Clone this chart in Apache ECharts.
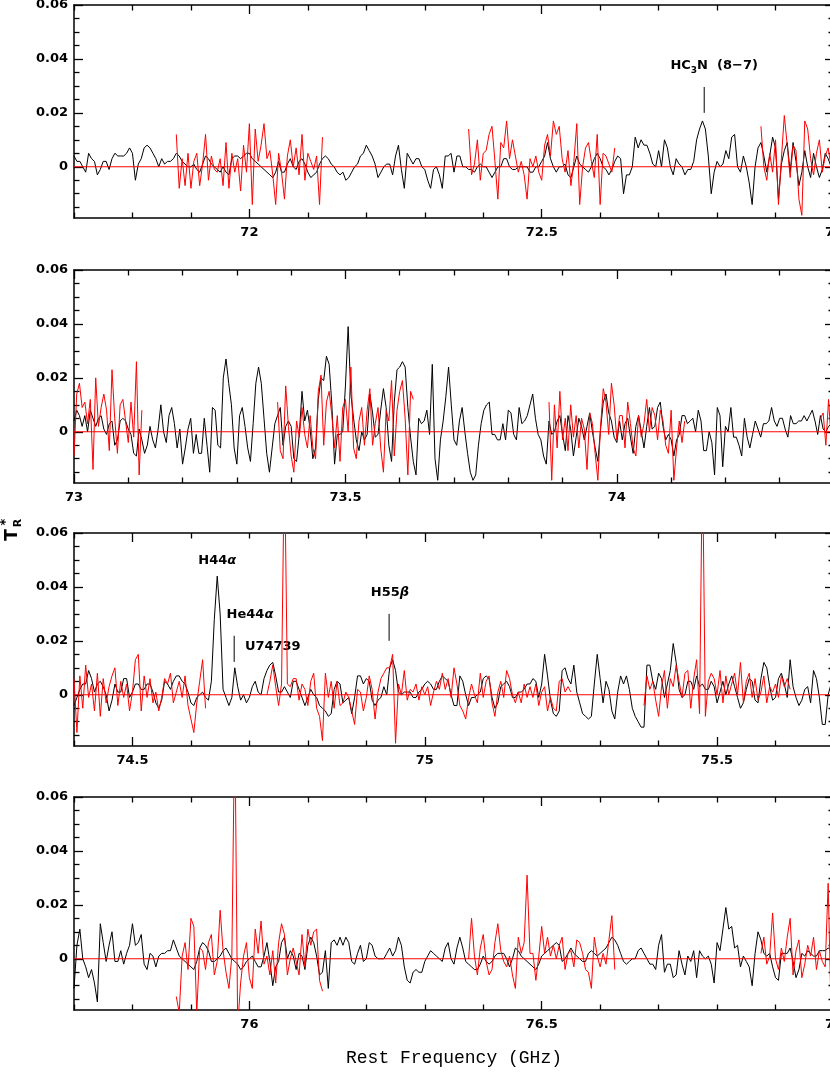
<!DOCTYPE html>
<html>
<head>
<meta charset="utf-8">
<script src="https://cdn.jsdelivr.net/npm/echarts@6/dist/echarts.min.js"></script>
<style>
html,body{margin:0;padding:0;background:#fff;}
#main{width:830px;height:1078px;}
</style>
</head>
<body>
<div id="main"></div>
<script>
// frequency range of each panel (GHz)
var panelMin = [71.7, 73.0, 74.4, 75.7];
var panelMax = [73.0, 74.4, 75.7, 77.0];
var xTicks = [[72, 72.5, 73], [73, 73.5, 74], [74.5, 75, 75.5], [76, 76.5, 77]];
var yTicks = [0, 0.02, 0.04, 0.06];
var yMin = -0.019, yMax = 0.06;

// black spectra in mK, one value every 0.005 GHz from panelMin
var blackStep = 0.005;
var black1 = [4, 2, 2, 0, -2, 5, 3, 2, -3, -1, 2, 2, -1, 3, 5, 4, 4, 4, 5, 7,
  5, -5, 1, 3, 7, 8, 7, 5, 3, 0, 3, 1, 2, 2, 3, 5, 4, 2, 1, 0,
  0, 1, -1, -2, 1, 4, 3, 1, 0, -1, -2, 0, -2, -3, 3, 4, 4, 3, 4, 5,
  5, 3, 2, 1, 0, -1, -2, -3, -4, -2, 2, -2, -2, 1, 3, 0, -1, 2, 3, 1,
  -2, -4, -3, -2, 1, 3, 4, 3, 1, 0, -2, -3, -2, -5, -4, -2, 0, 1, 4, 5,
  8, 6, 4, 1, -4, -2, 0, 1, 1, -3, 4, 8, -1, -8, 5, 3, 1, 3, 3, 0,
  -1, -5, -8, -1, 0, -3, -8, 4, 4, 5, -2, 4, 4, 0, 0, -1, -1, -2, 0, 1,
  0, 0, -2, -4, -2, 0, 0, 3, 3, 0, -1, -1, 0, 0, 0, 0, -2, -2, 0, 0,
  2, 4, 9, 3, 0, -2, 0, 0, 1, -3, -4, 0, 4, 1, 0, -1, -2, 0, 3, 5,
  3, 0, -1, -3, -1, 2, 4, 3, -10, -3, -3, 0, 11, 7, 10, 8, 8, 5, 1, 0,
  6, 0, 10, 7, 0, -3, 3, 1, 0, -3, -1, -1, 2, 10, 14, 17, 14, 4, -10, -2,
  2, 0, 1, 6, 3, 11, 12, 0, -2, 4, 0, -6, -14, 0, 7, 9, 4, -2, 4, 11,
  7, -12, 1, 6, 9, -2, 9, 2, -7, -2, 6, 0, -4, 5, 0, -4, -1, 5, 3, 0, 1];
var black2 = [4, 8, 6, 2, 6, 0, 8, 5, 2, 5, 6, 1, -1, 3, 4, -5, -3, 4, 5, 4,
  1, -1, -8, -9, 1, -3, -8, -5, 2, -3, -6, 1, 10, 0, -4, 6, 9, 3, -6, 1,
  -12, -6, 1, 5, -8, -1, -8, -8, 5, -5, -15, 9, 8, -5, -6, 20, 27, 18, 10, -6,
  -12, 6, 9, 2, -6, -11, 3, 18, 24, 18, 5, -8, -15, -6, 3, 6, 9, -5, 2, 4,
  2, -10, -11, -1, 15, 4, 8, 1, -10, -6, 12, 20, 19, 28, 25, 10, -12, -1, -1, 0,
  17, 39, 14, 5, -3, -7, 0, -3, -1, 14, 7, -2, -1, 8, 16, 9, -5, -11, 11, 23,
  24, 26, 24, 9, -2, -11, -16, 5, 3, 4, 8, -1, 25, -10, -18, -3, 4, 13, 24, 10,
  -3, -5, 4, 9, 0, -8, -15, -18, -16, -5, 3, 8, 10, 11, -1, -1, -3, -3, 3, -3,
  8, 7, -1, -3, 9, 3, 4, 6, 10, 14, 5, -1, -3, -9, -12, 4, -1, 0, 4, 6,
  -1, -7, 6, 1, -9, -2, 5, 2, -3, 2, 7, 0, -6, -11, 1, 11, 14, 7, 4, -2,
  -4, 4, -3, 3, 5, -2, -8, 2, 6, 0, -6, 2, 9, 1, 2, 9, 11, 2, -3, -1,
  -3, -9, -3, -1, 6, 6, 3, 4, 5, 0, 8, 4, -7, -7, 0, -4, -16, 9, 6, -13,
  2, 0, 9, -2, -2, -5, -9, 5, -2, -6, -1, 4, 1, -2, 3, 3, 4, 9, 4, 2,
  5, 5, 1, -2, 6, 3, 3, 4, 4, 6, 4, 6, 8, 4, -1, 6, 1, 0, 2, 3, 2];
var black3 = [-4, -1, 2, 4, 4, 9, 6, 1, 4, 5, 3, 0, -6, -2, 4, 1, 1, 6, 6, -1,
  1, 4, 4, 2, 2, 4, 4, 1, -3, -5, -2, 5, 4, 2, 5, 7, 7, 5, 4, 1,
  -3, -4, -1, 0, 1, -1, -2, 5, 28, 44, 30, 2, -1, -4, -1, 10, 3, -2, 0, -3,
  -1, 3, 5, 1, 0, 6, 9, 11, 12, 7, 1, 1, 3, 1, -1, 5, 5, 2, -1, -4,
  -1, 2, 0, -1, -4, -5, -6, -8, -7, 2, 5, 4, -3, -2, -1, -7, -1, 7, 7, 4,
  6, 5, -2, -4, -2, -1, 3, 0, 10, 13, 9, 1, 0, 1, 1, 1, -1, -1, 1, 2,
  4, 5, 4, 2, 2, 5, 7, 6, 5, 0, -4, -4, 7, 5, 0, -4, -1, -1, 0, 1,
  6, 7, 6, -1, -5, -3, 3, 4, 5, 3, -1, -1, 1, 1, 2, 4, 4, 6, 5, -1,
  4, 15, 7, -2, -7, -8, -6, 9, 10, 6, 4, 11, 1, -3, -7, -8, -9, -8, 4, 15,
  6, -3, 5, 2, -6, -9, 1, 7, 4, 7, 2, -5, -8, -10, -12, -12, 11, 11, 5, 2,
  8, 6, -1, 4, 9, 19, 12, 2, -1, 0, 5, 5, 2, 7, 3, 4, 2, 2, 5, 3,
  -3, 1, 5, 0, 4, 7, 3, -1, -5, -3, 2, 6, 5, -2, -3, 6, 12, 10, 3, -2,
  -1, 6, 8, 4, -1, 13, 3, -1, -4, -2, 2, 3, -3, 9, 6, -1, -11, -11, 0, 4, 3];
var black4 = [-11, 5, 11, 0, -3, -7, -4, -9, -16, 13, 6, -1, 5, 10, -1, -1, 3, -2, 2, 5,
  13, 5, 6, 9, -2, -4, 2, 1, -3, 1, 2, 2, 3, 3, 7, 4, 1, 0, -1, -2,
  -3, -4, -1, 4, 6, 5, 3, -1, -1, 0, 1, 3, 4, 2, 0, -1, -2, -4, -3, -1,
  0, 1, -1, -3, -3, 1, 6, -1, -10, -3, -1, 6, 8, 0, 3, 1, -4, 2, 1, -4,
  5, 8, 6, 1, -6, -5, 3, -11, 6, 7, 5, 8, 5, 8, 6, -1, -2, 2, 5, -1,
  0, 6, 5, 1, 0, 0, 0, 2, 4, 1, 3, 8, 5, -3, -8, -9, -5, -4, -5, -5,
  -1, 1, 3, 2, 1, 0, -1, 4, 6, 0, -2, 4, 8, 4, -1, -2, -3, -4, -4, -2,
  1, -1, -2, -1, 1, 2, 2, 2, 0, -3, 0, 4, 3, 1, 0, -1, -2, -3, -4, -2,
  1, 2, 3, 4, 5, 6, 5, -1, 0, 2, 4, 2, 1, 0, -1, -1, 2, 3, 2, 1,
  2, 3, 4, 6, 8, 7, 5, 2, -1, -2, -1, 0, 0, 3, 4, 2, 0, -2, -2, -4,
  5, 9, -5, -2, -2, -7, -6, 3, -2, -6, 1, -1, 3, -7, 3, 1, 0, 1, -2, -9,
  6, 3, 11, 19, 11, 12, 4, 5, -3, 1, -1, -3, -10, 2, 10, 7, 2, 1, 2, -3,
  -7, -8, 2, 2, 2, 4, -1, -7, -4, 2, 1, 3, 2, 1, 1, 3, 3, 3, 4, 3, 3];

// red spectra in mK, one value every 0.005 GHz from each segment start
var redStep = 0.005;
var redStart1 = [71.875, 72.375, 72.875];
var red1a = [12, -8, 3, -7, 5, -8, 2, 5, -7, 1, 12, -5, 4, -1, -2, 3, -7, 9, -8, 5,
  -2, 3, -9, 8, -2, 16, -14, 14, 2, 8, 16, 3, 6, -3, -14, 5, -2, -12, 4, 10,
  0, 7, -3, 12, -5, 5, 2, -1, 4, -14, 11];
var red1b = [14, -3, 1, 10, -5, 5, 6, 12, 15, 2, -12, 9, 7, 17, 3, 10, 4, -2, 2, -3,
  -12, 3, 0, 4, -2, -5, 8, 12, 4, 17, 12, 15, 3, -2, 6, -7, 2, 16, -14, 0,
  7, 9, 2, -4, 12, -14, 5, 4, 1, -2, 7];
var red1c = [15, 0, -5, 5, -2, 10, -14, 3, 19, 8, -4, 8, 6, -12, -18, 17, 14, 3, -3, 5,
  10, -2, 4, 7, 0, 3];

var redStart2 = [73.0, 73.375, 73.875, 74.375];
var red2a = [-9, 14, 18, 9, 11, 3, 12, -14, 20, 2, 9, 14, 8, -7, 23, 5, -8, 10, 12, 4,
  -4, 11, -2, 26, -16, 8];
var red2b = [11, -7, -10, 17, 2, -9, -15, 4, -2, 9, -1, -6, 6, -6, -10, 15, 21, -5, 11, 15,
  6, -6, 6, -11, 9, 12, 0, 24, -6, -10, 4, 9, -5, 8, 16, -5, 3, 9, -6, -15,
  8, 4, 19, -9, 8, 15, 19, 5, -16, 15, 12];
var red2c = [11, -18, 10, -6, 15, -3, 5, -7, 10, -2, 6, -6, 5, 1, -14, 7, 3, -8, -18, 2,
  16, 11, -1, 18, 10, -3, 6, 6, -6, 11, 3, -6, -9, 6, -2, 3, 12, 0, 9, 6,
  -3, 8, 4, -5, -8, 8, -18, -6, 4, -4, 4];
var red2d = [5, 7, -5, 12, -4, 3];

var redStart3 = [74.4, 74.73, 75.375];
var red3a = [6, -14, 7, -5, 11, -1, 4, -6, 8, -8, 6, -3, 3, 7, 10, -4, 5, -1, 4, -6,
  1, 13, 15, -6, 7, -1, 6, -3, 1, -6, -1, 6, 4, 8, -3, 1, 5, -1, 7, -4,
  -9, -14, -3, 5, 13, -5];
var red3b = [0, 5, 11, 3, -4, 4, 90, 4, 3, 6, 6, -2, 4, 2, -4, 5, 8, -5, -8, -17,
  8, -1, 5, -5, 5, -4, -3, 1, -1, -6, -11, 2, 1, -6, -1, 7, 2, -9, 1, 6,
  8, 10, 10, 15, -18, 4, 0, 9, -2, 2, 1, 4, -2, 3, 0, 3, -4, 1, 5, 2,
  8, 2, 6, -1, 10, 4, -4, -6, -9, -1, 4, 0, -3, 8, -1, 5, 7, -3, -8, 1,
  5, -1, 9, 6, 0, -3, 1, -3, 4, -1, 3, -1, 4, -4, 1, 3, -6, -1, -5, -6,
  5, 6, 1, 3, 1];
var red3c = [-4, 7, 2, 5, -2, -8, 3, 9, -5, 6, 3, 11, 5, -1, 8, 9, -5, 6, 13, -7,
  90, -8, 5, 8, 6, 0, 9, -3, 7, 0, 4, 8, 0, 12, -3, 5, 8, -1, 6, -2,
  1, 7, -3, 3, 1, 4, -1, 7, 3, 6, 2];

var redStart4 = [75.875, 76.375, 76.875];
var red4a = [-14, -20, 1, 6, -4, 15, 12, -20, 4, 3, -4, 6, 9, -6, -1, 18, 3, -5, -11, 1,
  90, -25, -9, 1, 6, -7, -11, 11, 2, 14, -2, 1, -6, 3, -9, 6, 13, 9, -6, 0,
  4, -1, -6, 9, -3, 11, 5, 10, 11, -8, -12];
var red4b = [0, 15, 1, -6, 4, 9, -1, -6, -4, 6, 13, 3, -1, -3, 1, -6, -11, 8, 2, 6,
  31, 2, 2, -8, 1, 12, 2, 8, 1, 5, 0, 5, 8, -4, 2, 3, -3, 7, 6, 2,
  -4, -5, -11, 8, 1, -3, 2, -2, 7, 16, -4];
var red4c = [2, 8, -2, 1, 17, 0, -4, 4, -1, 8, 15, -6, 3, 7, -7, -2, 5, 1, 8, -4,
  3, -1, -3, 28, -20, 5];

// line identifications
var annoText = ['{b|HC}{s|3}{b|N  (8\u22127)}', '{b|H44}{g|\u03b1}', '{b|He44}{g|\u03b1}', '{b|U74739}', '{b|H55}{g|\u03b2}'];
var annoPanel = [0, 2, 2, 2, 2];
var annoFreq = [72.795, 74.645, 74.701, 74.74, 74.9405];
var annoY = [0.0374, 0.0496, 0.0296, 0.0178, 0.0378];
var markFreq = [72.778, null, 74.674, null, 74.939];
var markLow = [0.020, null, 0.0122, null, 0.020];
var markHigh = [0.0296, null, 0.0219, null, 0.030];

var blacks = [black1, black2, black3, black4];
var reds = [[red1a, red1b, red1c], [red2a, red2b, red2c, red2d], [red3a, red3b, red3c], [red4a, red4b, red4c]];
var redStarts = [redStart1, redStart2, redStart3, redStart4];

var gridTop = [5, 270, 533, 797];
var font = 'DejaVu Sans';

function toXY(start, step, vals) {
  return vals.map(function (v, i) {
    return [+(start + step * i).toFixed(4), v / 1000];
  });
}

function minorX(p) {
  var out = [];
  for (var k = Math.round(panelMin[p] * 10); k <= Math.round(panelMax[p] * 10); k++) {
    if (k % 5 !== 0) out.push(k / 10);
  }
  return out;
}
var yMinor = [];
for (var k = -3; k <= 11; k++) {
  if (k % 4 !== 0) yMinor.push(+(k * 0.005).toFixed(3));
}

function fmtX(v) { return String(+v.toFixed(1)); }
function fmtY(v) { return v === 0 ? '0' : v.toFixed(2); }

var tickStyle = {color: '#000', width: 1.3};
var labelStyle = {color: '#000', fontFamily: font, fontWeight: 'bold', fontSize: 13};

function makeX(p, pos, vals, len, main) {
  return {
    type: 'value', gridIndex: p, position: pos,
    min: panelMin[p], max: panelMax[p],
    axisLine: {show: main, onZero: false, lineStyle: {color: '#000', width: 1.5}},
    axisTick: {show: true, inside: true, length: len, customValues: vals, lineStyle: tickStyle},
    axisLabel: (main && pos === 'bottom') ?
      Object.assign({show: true, customValues: xTicks[p], formatter: fmtX, margin: 8}, labelStyle) :
      {show: false},
    splitLine: {show: false}
  };
}
function makeY(p, pos, vals, len, main) {
  return {
    type: 'value', gridIndex: p, position: pos,
    min: yMin, max: yMax,
    axisLine: {show: main, onZero: false, lineStyle: {color: '#000', width: 1.5}},
    axisTick: {show: true, inside: true, length: len, customValues: vals, lineStyle: tickStyle},
    axisLabel: (main && pos === 'left') ?
      Object.assign({show: true, customValues: yTicks, formatter: fmtY, margin: 6}, labelStyle) :
      {show: false},
    splitLine: {show: false}
  };
}

var grids = [], xAxes = [], yAxes = [], series = [];
for (var p = 0; p < 4; p++) {
  grids.push({left: 74, top: gridTop[p], width: 760, height: 213,
    containLabel: false, outerBoundsMode: 'none'});
  xAxes.push(makeX(p, 'bottom', xTicks[p], 9, true));
  xAxes.push(makeX(p, 'bottom', minorX(p), 5.5, false));
  xAxes.push(makeX(p, 'top', xTicks[p], 9, true));
  xAxes.push(makeX(p, 'top', minorX(p), 5.5, false));
  yAxes.push(makeY(p, 'left', yTicks, 9, true));
  yAxes.push(makeY(p, 'left', yMinor, 5.5, false));
  yAxes.push(makeY(p, 'right', yTicks, 9, true));
  yAxes.push(makeY(p, 'right', yMinor, 5.5, false));

  series.push({
    type: 'line', xAxisIndex: p * 4, yAxisIndex: p * 4,
    data: toXY(panelMin[p], blackStep, blacks[p]),
    showSymbol: false, symbol: 'none',
    lineStyle: {color: '#000', width: 1}, itemStyle: {color: '#000'},
    z: 2
  });
  // red zero baseline
  series.push({
    type: 'line', xAxisIndex: p * 4, yAxisIndex: p * 4,
    data: [[panelMin[p], 0], [panelMax[p], 0]],
    showSymbol: false, symbol: 'none',
    lineStyle: {color: '#ff0000', width: 1}, itemStyle: {color: '#ff0000'},
    z: 3
  });
  reds[p].forEach(function (seg, s) {
    series.push({
      type: 'line', xAxisIndex: p * 4, yAxisIndex: p * 4,
      data: toXY(redStarts[p][s], redStep, seg),
      showSymbol: false, symbol: 'none',
      lineStyle: {color: '#ff0000', width: 1}, itemStyle: {color: '#ff0000'},
      z: 4
    });
  });
}

var chart = echarts.init(document.getElementById('main'));
chart.setOption({
  animation: false,
  backgroundColor: '#fff',
  grid: grids,
  xAxis: xAxes,
  yAxis: yAxes,
  series: series
});

var rich = {
  b: {fontFamily: font, fontWeight: 'bold', fontSize: 13, lineHeight: 18, fill: '#000'},
  s: {fontFamily: font, fontWeight: 'bold', fontSize: 9, lineHeight: 10, verticalAlign: 'bottom', fill: '#000'},
  g: {fontFamily: font, fontWeight: 'bold', fontStyle: 'italic', fontSize: 13, lineHeight: 18, fill: '#000'}
};
var graphics = [];
annoText.forEach(function (t, i) {
  var finder = {xAxisIndex: annoPanel[i] * 4, yAxisIndex: annoPanel[i] * 4};
  var pt = chart.convertToPixel(finder, [annoFreq[i], annoY[i]]);
  graphics.push({
    type: 'text', x: pt[0], y: pt[1], silent: true,
    style: {text: t, rich: rich, align: 'center', verticalAlign: 'middle', fill: '#000',
      font: 'bold 13px "DejaVu Sans"'}
  });
  if (markFreq[i] !== null) {
    var a = chart.convertToPixel(finder, [markFreq[i], markLow[i]]);
    var b = chart.convertToPixel(finder, [markFreq[i], markHigh[i]]);
    graphics.push({
      type: 'line', silent: true,
      shape: {x1: a[0], y1: a[1], x2: b[0], y2: b[1]},
      style: {stroke: '#000', lineWidth: 1}
    });
  }
});
// axis titles
graphics.push({
  type: 'text', x: 454, y: 1058, silent: true,
  style: {text: 'Rest Frequency (GHz)', font: '18px "Liberation Mono"', fill: '#000',
    align: 'center', verticalAlign: 'middle'}
});
graphics.push({
  type: 'group', x: 13, y: 527, rotation: Math.PI / 2, silent: true,
  children: [
    {type: 'text', x: -8, y: 0, style: {text: 'T', font: 'bold 17px "DejaVu Sans"', fill: '#000', align: 'center', verticalAlign: 'middle'}},
    {type: 'text', x: 4, y: 5, style: {text: 'R', font: 'bold 11px "DejaVu Sans"', fill: '#000', align: 'center', verticalAlign: 'middle'}},
    {type: 'text', x: 5, y: -7, style: {text: '*', font: 'bold 13px "DejaVu Sans"', fill: '#000', align: 'center', verticalAlign: 'middle'}}
  ]
});
chart.setOption({graphic: graphics});
</script>
</body>
</html>
